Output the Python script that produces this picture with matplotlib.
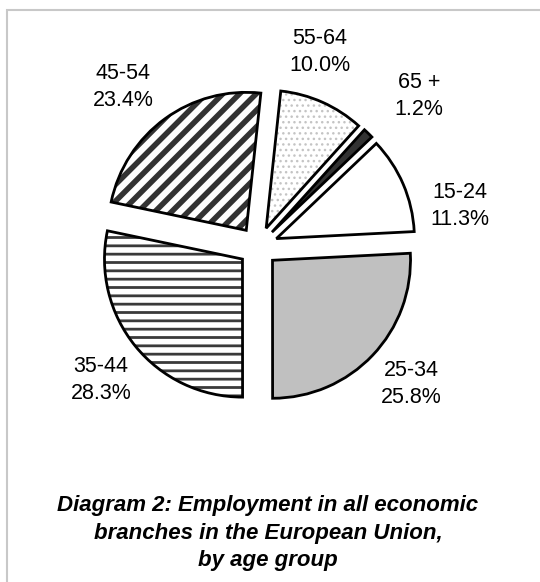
import matplotlib
matplotlib.use('Agg')
from matplotlib import pyplot as plt
from matplotlib.patches import Rectangle

# Data
age_groups = ['15-24', '25-34', '35-44', '45-54', '55-64', '65 +']
shares = [11.3, 25.8, 28.3, 23.4, 10.0, 1.2]

# Look of each slice: fill, hatch, hatch colour, hatch width
fills = ['white', '#c0c0c0', 'white', 'white', 'white', '#333333']
hatches = [None, None, '--', '//', '...', None]
hatch_colors = ['black', 'black', '#3a3a3a', '#333333', '#c4c4c4', 'black']
hatch_widths = [1.0, 1.0, 2.0, 4.0, 1.0, 1.0]

# Label centres in pixels (x from left, y from top)
label_px = [(460, 206), (411, 384), (101, 380), (123, 87), (320, 52), (419, 96)]

W, H = 540, 582
plt.rcParams['font.family'] = ['Liberation Sans', 'DejaVu Sans']

fig = plt.figure(figsize=(W / 100, H / 100), dpi=100)
ax = fig.add_axes([0, 0, 1, 1])

center = (258, H - 246.5)
radius = 138
# pie() shifts exploded wedges by this amount in data units (pixels here)
explode = [20] * len(shares)

# First pass: fills and hatches (hatch colour comes from the edge colour)
wedges, _ = ax.pie(shares, explode=explode, startangle=43.6, counterclock=False,
                   center=center, radius=radius, colors=fills,
                   wedgeprops=dict(linewidth=0))
for w, h, hc, hw in zip(wedges, hatches, hatch_colors, hatch_widths):
    if h:
        w.set_hatch(h)
        w.set_edgecolor(hc)
        if hasattr(w, 'set_hatch_linewidth'):
            w.set_hatch_linewidth(hw)

# Second pass: black outlines
ax.pie(shares, explode=explode, startangle=43.6, counterclock=False,
       center=center, radius=radius,
       wedgeprops=dict(fill=False, edgecolor='black', linewidth=2))

# Labels: category and share
for name, val, (px, py) in zip(age_groups, shares, label_px):
    ax.text(px, H - py, f'{name}\n{val:.1f}%', ha='center', va='center',
            fontsize=15.5, linespacing=1.35, color='black')

ax.text(268, H - 533,
        'Diagram 2: Employment in all economic\nbranches in the European Union,\nby age group',
        ha='center', va='center', fontsize=16, fontweight='bold', fontstyle='italic',
        linespacing=1.4)

ax.set_xlim(0, W)
ax.set_ylim(0, H)
ax.set_aspect('auto')
ax.axis('off')

# Light grey frame, cut off at the right and bottom
fig.patches.append(Rectangle((7 / W, -0.1), 1.2, (H - 10) / H + 0.1,
                             transform=fig.transFigure, fill=False,
                             edgecolor='#c8c8c8', linewidth=1.5))

fig.savefig('out.png', dpi=100)
